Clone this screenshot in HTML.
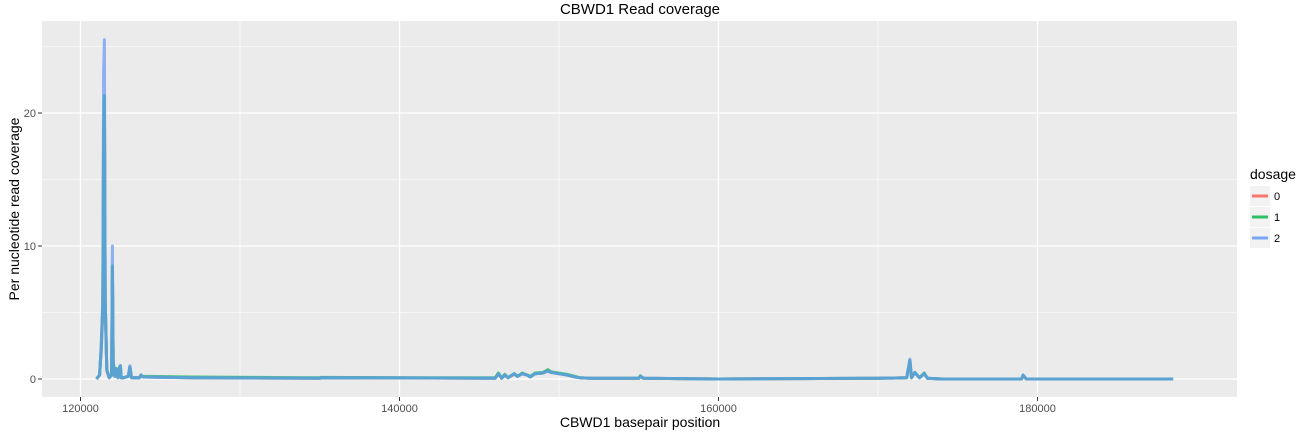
<!DOCTYPE html>
<html><head><meta charset="utf-8">
<style>
body{margin:0;background:#fff;}
svg text{font-family:"Liberation Sans",Arial,sans-serif;}
</style></head>
<body>
<svg id="chart" width="1311" height="435" xmlns="http://www.w3.org/2000/svg">
<text x="640" y="14" font-size="15" text-anchor="middle" fill="#000">CBWD1 Read coverage</text>
<rect x="42" y="21" width="1195" height="376" fill="#ebebeb"/>
<g id="grid"></g>
<g id="series"></g>
<g id="axes"></g>
<text x="640" y="427" font-size="14" text-anchor="middle">CBWD1 basepair position</text>
<text transform="translate(19,209) rotate(-90)" font-size="14" text-anchor="middle">Per nucleotide read coverage</text>
<g>
<text x="1250" y="179" font-size="14">dosage</text>
<g id="legend"></g>
</g>
</svg>
<script>
const positions=[121000,121200,121300,121400,121450,121500,121550,121650,121800,121950,122000,122050,122150,122250,122300,122350,122450,122500,122550,122700,123000,123100,123200,123700,123800,123900,127000,135000,135100,140000,146000,146200,146400,146600,146800,147200,147400,147700,148000,148200,148500,149000,149300,149500,150500,151000,151300,152000,155000,155100,155300,160000,170000,171800,172000,172100,172300,172600,172900,173100,174000,179000,179100,179300,185000,188500];
const dosage0=[0,0.3,2.0,5.0,17.0,21.0,5.5,0.6,0.1,0.3,8.0,1.2,0.2,0.7,0.2,0.1,0.8,0.9,0.1,0.1,0.2,0.9,0.1,0.1,0.3,0.15,0.1,0.05,0.1,0.08,0.05,0.4,0.05,0.3,0.1,0.35,0.2,0.4,0.3,0.15,0.4,0.45,0.65,0.5,0.3,0.15,0.1,0.05,0.05,0.2,0.05,0.0,0.05,0.1,1.3,0.1,0.5,0.1,0.4,0.05,0.0,0.0,0.25,0.0,0.0,0.0];
const dosage1=[0,0.3,2.3,5.5,19.0,21.3,6.0,0.7,0.1,0.3,8.5,1.3,0.2,0.8,0.2,0.1,0.9,1.0,0.1,0.1,0.2,0.9,0.1,0.1,0.3,0.2,0.15,0.1,0.12,0.1,0.1,0.45,0.1,0.35,0.1,0.4,0.2,0.45,0.3,0.2,0.45,0.5,0.7,0.55,0.35,0.2,0.1,0.05,0.05,0.25,0.05,0.0,0.05,0.1,1.4,0.1,0.5,0.1,0.45,0.05,0.0,0.0,0.3,0.0,0.0,0.0];
const dosage2=[0,0.3,2.5,6.0,23.0,25.5,6.0,0.7,0.1,0.3,10.0,1.3,0.2,0.7,0.2,0.1,0.9,1.0,0.1,0.1,0.2,1.0,0.1,0.1,0.3,0.15,0.1,0.05,0.1,0.08,0.05,0.4,0.05,0.3,0.1,0.4,0.2,0.4,0.3,0.15,0.4,0.45,0.6,0.5,0.3,0.15,0.1,0.05,0.05,0.2,0.05,0.0,0.05,0.1,1.5,0.1,0.5,0.1,0.4,0.05,0.0,0.0,0.3,0.0,0.0,0.0];
const xTicks=[120000,140000,160000,180000];
const xMinor=[130000,150000,170000];
const yTicks=[0,10,20];
const yMinor=[5,15,25];
const legendLabels=["0","1","2"];
const NS="http://www.w3.org/2000/svg";
const X=v=>80.5+(v-120000)*319/20000;
const Y=v=>379-v*13.3;
function mk(tag,attrs,parent){const e=document.createElementNS(NS,tag);for(const k in attrs)e.setAttribute(k,attrs[k]);parent.appendChild(e);return e;}
const grid=document.getElementById('grid'),axes=document.getElementById('axes'),ser=document.getElementById('series'),leg=document.getElementById('legend');
xMinor.forEach(v=>{const l=mk('line',{x1:X(v),x2:X(v),y1:21,y2:397,stroke:'#fff','stroke-width':0.6},grid);

});
yMinor.forEach(v=>{const l=mk('line',{x1:42,x2:1237,y1:Y(v),y2:Y(v),stroke:'#fff','stroke-width':0.6},grid);

});
xTicks.forEach(v=>{const l=mk('line',{x1:X(v),x2:X(v),y1:21,y2:397,stroke:'#fff','stroke-width':1.3},grid);


const t=mk('line',{x1:X(v),x2:X(v),y1:397,y2:401,stroke:'#333'},axes);


const tx=mk('text',{x:X(v),y:412,'font-size':11,'text-anchor':'middle',fill:'#4d4d4d'},axes);tx.textContent=v;

});
yTicks.forEach(v=>{const l=mk('line',{x1:42,x2:1237,y1:Y(v),y2:Y(v),stroke:'#fff','stroke-width':1.3},grid);


const t=mk('line',{x1:38,x2:42,y1:Y(v),y2:Y(v),stroke:'#333'},axes);


const tx=mk('text',{x:36,y:Y(v)+4,'font-size':11,'text-anchor':'end',fill:'#4d4d4d'},axes);tx.textContent=v;

});
const series=[[dosage0,'#f8766d','series-dosage-0'],[dosage1,'#2fbf65','series-dosage-1'],[dosage2,'#7ca6f5','series-dosage-2']];
series.forEach(([vals,col,name])=>{const d=vals.map((v,i)=>(i?'L':'M')+X(positions[i]).toFixed(1)+','+Y(v).toFixed(1)).join('');
const p=mk('path',{d:d,fill:'none',stroke:col,'stroke-width':3,'stroke-linejoin':'round','stroke-opacity':0.85},ser);

});
const ov=mk('path',{d:dosage1.map((v,i)=>(i?'L':'M')+X(positions[i]).toFixed(1)+','+Y(Math.min(v,dosage2[i])).toFixed(1)).join(''),fill:'none',stroke:'#5aa2d2','stroke-width':3,'stroke-linejoin':'round'},ser);


legendLabels.forEach((lab,i)=>{const y=186+i*21;
const bg=mk('rect',{x:1250,y:y,width:20,height:20,fill:'#f2f2f2'},leg);


const l=mk('line',{x1:1252,x2:1268,y1:y+10,y2:y+10,stroke:series[i][1],'stroke-width':3},leg);


const t=mk('text',{x:1274,y:y+14,'font-size':11},leg);t.textContent=lab;

});
</script>
</body></html>
